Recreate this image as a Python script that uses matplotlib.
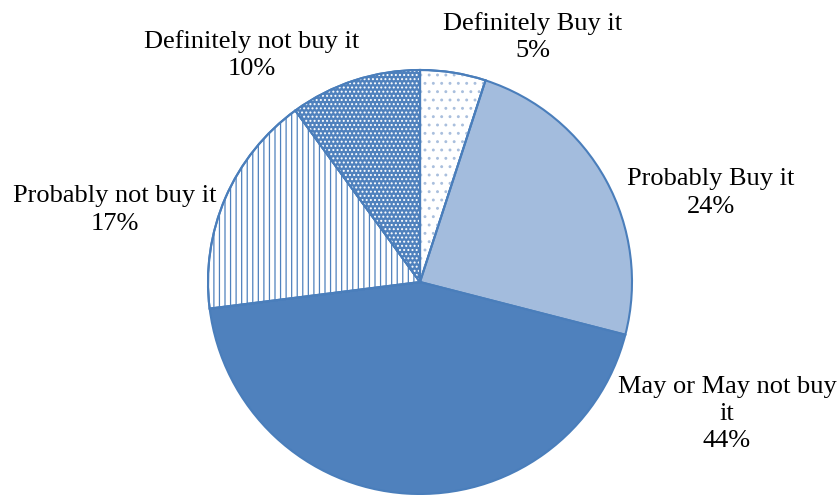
import matplotlib.pyplot as plt

labels = ['Definitely Buy it', 'Probably Buy it', 'May or May not buy\nit',
          'Probably not buy it', 'Definitely not buy it']
shares = [5, 24, 44, 17, 10]

# label text centres (pixel coords, origin bottom-left)
label_pos = [(533, 458), (711, 302), (727, 81), (115, 285), (252, 440)]

blue = '#4F81BD'
edge = '#4A7EBB'
faces = ['white', '#A3BCDD', blue, 'white', blue]
hatches = ['..', None, None, '|||', '....']
hatch_cols = ['#A9BFDD', None, None, blue, 'white']

plt.rcParams['font.family'] = ['Liberation Serif', 'DejaVu Serif']
plt.rcParams['hatch.linewidth'] = 0.9

fig = plt.figure(figsize=(8.4, 4.95), dpi=100)
ax = fig.add_axes([0, 0, 1, 1])

center = (420, 213)
radius = 212

wedges, _ = ax.pie(shares, startangle=90, counterclock=False, center=center,
                   radius=radius, colors=faces,
                   wedgeprops=dict(edgecolor=edge, linewidth=1.5))

# hatch overlays drawn on top of the filled wedges
for w, h, hc in zip(wedges, hatches, hatch_cols):
    if h is None:
        continue
    ov = plt.matplotlib.patches.Wedge(w.center, w.r, w.theta1, w.theta2,
                                      fill=False, hatch=h, edgecolor=hc,
                                      linewidth=0)
    ax.add_patch(ov)
    ax.add_patch(plt.matplotlib.patches.Wedge(w.center, w.r, w.theta1, w.theta2,
                                              fill=False, edgecolor=edge,
                                              linewidth=1.5))

for lab, val, (x, y) in zip(labels, shares, label_pos):
    ax.text(x, y, f'{lab}\n{val}%', ha='center', va='center', fontsize=19,
            linespacing=1.32, color='black')

ax.set_xlim(0, 840)
ax.set_ylim(0, 495)
ax.set_aspect('equal')
ax.axis('off')

fig.savefig('out.png', dpi=100, facecolor='white')
